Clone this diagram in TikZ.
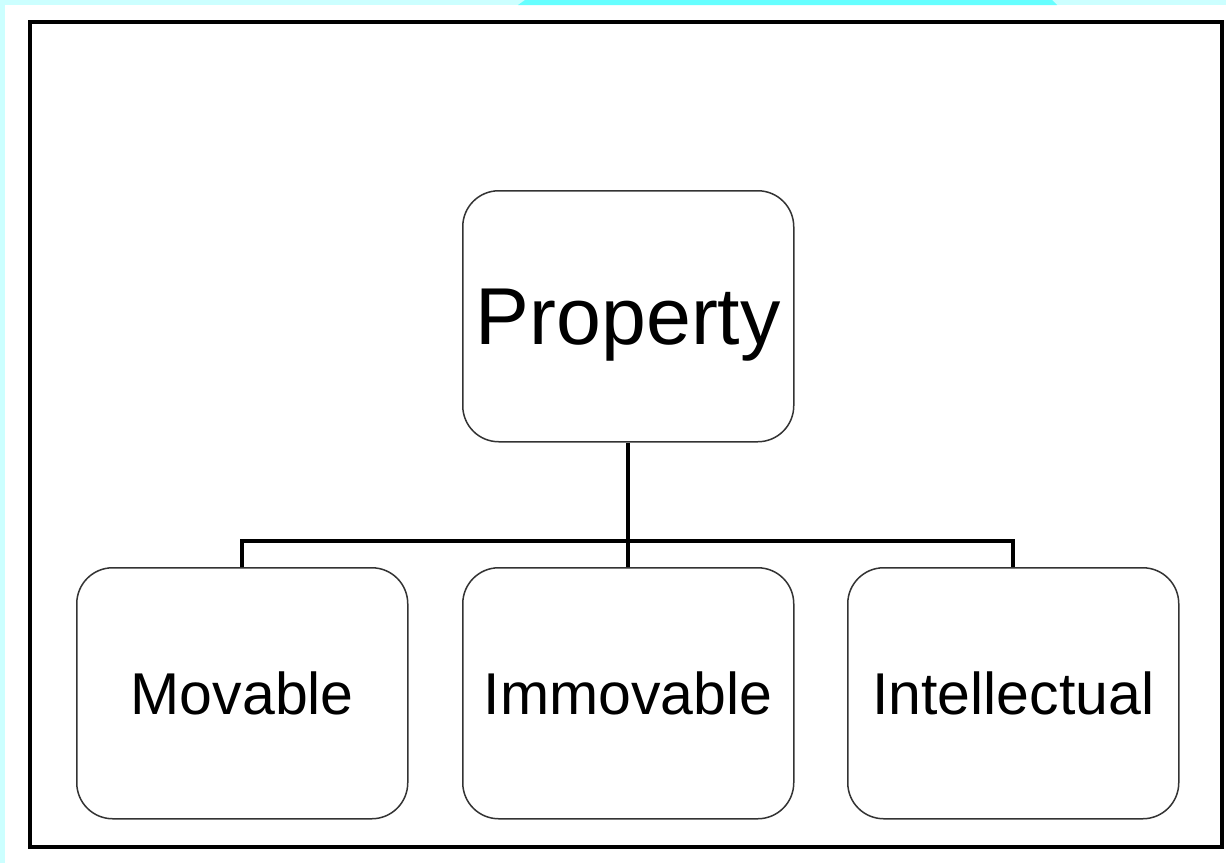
\documentclass[tikz,border=0pt]{standalone}
\usepackage{fontspec}
\setmainfont{Liberation Sans}
\definecolor{cyanlight}{HTML}{CCFFFF}
\definecolor{cyanbright}{HTML}{66FFFF}
\definecolor{boxline}{HTML}{333333}
\begin{document}
\begin{tikzpicture}[x=1pt,y=-1pt,
  box/.style={draw=boxline,line width=1.5pt,rounded corners=36pt,fill=white,
    minimum width=331pt,minimum height=251pt,inner sep=0pt,anchor=north west,
    text depth=0pt},
  link/.style={draw=black,line width=4pt}]
\useasboundingbox (0,0) rectangle (1226,863);
\fill[cyanlight] (0,0) rectangle (1226,863);
\fill[white] (5,5) rectangle (1226,863);
\fill[cyanbright] (518,5) -- (525,0) -- (1052,0) -- (1057,5) -- cycle;
\draw[black,line width=4pt] (30,22) rectangle (1222,847);
\coordinate (busy) at (0,541);
\node[box,font=\fontsize{80.7pt}{90pt}\selectfont] (prop) at (462,190) {Property};
\node[box,font=\fontsize{59pt}{66pt}\selectfont] (mov) at (76,567) {Movable};
\node[box,font=\fontsize{59pt}{66pt}\selectfont] (imm) at (462,567) {Immovable};
\node[box,font=\fontsize{59pt}{66pt}\selectfont] (int) at (847,567) {Intellectual};
\draw[link] (prop.south) -- (imm.north);
\draw[link,line join=miter] (mov.north) -- (mov.north |- busy) -- (int.north |- busy) -- (int.north);
\end{tikzpicture}
\end{document}
